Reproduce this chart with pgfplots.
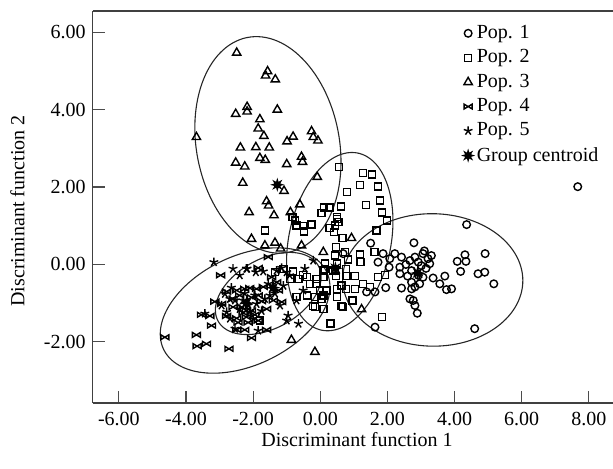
\documentclass[border=0pt]{standalone}
\usepackage{fontspec}
\setmainfont{Liberation Serif}
\usepackage{pgfplots}
\pgfplotsset{compat=1.18}

\pgfdeclareplotmark{bowtie}{%
  \pgfpathmoveto{\pgfqpoint{-\pgfplotmarksize}{0.6\pgfplotmarksize}}%
  \pgfpathlineto{\pgfqpoint{\pgfplotmarksize}{-0.6\pgfplotmarksize}}%
  \pgfpathlineto{\pgfqpoint{\pgfplotmarksize}{0.6\pgfplotmarksize}}%
  \pgfpathlineto{\pgfqpoint{-\pgfplotmarksize}{-0.6\pgfplotmarksize}}%
  \pgfpathclose\pgfusepathqstroke}
\pgfdeclareplotmark{centroid}{%
  \pgfpathmoveto{\pgfpointpolar{90}{\pgfplotmarksize}}%
  \pgfpathlineto{\pgfpointpolar{112.5}{0.45\pgfplotmarksize}}%
  \pgfpathlineto{\pgfpointpolar{135}{\pgfplotmarksize}}%
  \pgfpathlineto{\pgfpointpolar{157.5}{0.45\pgfplotmarksize}}%
  \pgfpathlineto{\pgfpointpolar{180}{\pgfplotmarksize}}%
  \pgfpathlineto{\pgfpointpolar{202.5}{0.45\pgfplotmarksize}}%
  \pgfpathlineto{\pgfpointpolar{225}{\pgfplotmarksize}}%
  \pgfpathlineto{\pgfpointpolar{247.5}{0.45\pgfplotmarksize}}%
  \pgfpathlineto{\pgfpointpolar{270}{\pgfplotmarksize}}%
  \pgfpathlineto{\pgfpointpolar{292.5}{0.45\pgfplotmarksize}}%
  \pgfpathlineto{\pgfpointpolar{315}{\pgfplotmarksize}}%
  \pgfpathlineto{\pgfpointpolar{337.5}{0.45\pgfplotmarksize}}%
  \pgfpathlineto{\pgfpointpolar{0}{\pgfplotmarksize}}%
  \pgfpathlineto{\pgfpointpolar{22.5}{0.45\pgfplotmarksize}}%
  \pgfpathlineto{\pgfpointpolar{45}{\pgfplotmarksize}}%
  \pgfpathlineto{\pgfpointpolar{67.5}{0.45\pgfplotmarksize}}%
  \pgfpathclose\pgfusepathqfillstroke}

\begin{document}
\begin{tikzpicture}
\path[use as bounding box] (-46.35pt,-33pt) rectangle (260.15pt,201.5pt);
\begin{axis}[
  at={(0,0)}, anchor=south west,
  scale only axis, width=260.15pt, height=196pt,
  xmin=-6.78, xmax=8.72, ymin=-3.58, ymax=6.55,
  axis x line*=box, axis y line*=left,
  axis line style={black!75, line width=0.6pt},
  xtick={-6,-4,...,8}, ytick={-2,0,...,6},
  xtick pos=bottom, ytick pos=left,
  tick align=inside, major tick length=6pt,
  tick style={black!70, line width=0.6pt},
  font=\fontsize{10}{12}\selectfont,
  /pgf/number format/assume math mode=true,
  xticklabel style={yshift=-1pt, /pgf/number format/.cd, fixed, fixed zerofill, precision=2},
  yticklabel style={/pgf/number format/.cd, fixed, fixed zerofill, precision=2},
  xlabel={Discriminant function 1},
  ylabel={Discriminant function 2},
  xlabel style={at={(axis description cs:0.508,-0.0944)}, anchor=center},
  ylabel style={at={(axis description cs:-0.1445,0.49)}, anchor=center},
  legend style={at={(rel axis cs:0.712,0.975)}, anchor=north west, draw=none, fill=none,
    font=\fontsize{10}{12}\selectfont, row sep=0.1pt, inner sep=0pt},
  legend cell align=left,
  every axis plot/.append style={line width=0.7pt},
]
% Pop. 1
\addplot[only marks, mark=o, mark size=1.9pt, black] table {
4.36 1.03
1.50 0.55
2.79 0.56
1.87 0.28
2.07 0.15
2.22 0.28
2.42 0.19
1.72 0.06
2.05 -0.07
2.37 -0.07
2.67 0.10
2.82 0.19
2.92 0.06
3.06 0.28
3.21 0.15
3.31 0.23
3.26 0.02
3.01 -0.03
2.72 -0.16
2.92 -0.28
3.06 -0.33
3.36 -0.35
3.71 -0.30
3.56 -0.50
2.96 -0.50
2.72 -0.46
2.42 -0.61
2.72 -0.63
2.82 -0.58
3.76 -0.65
3.91 -0.63
2.67 -0.89
2.77 -0.93
2.82 -1.06
2.89 -1.26
1.63 -1.62
4.60 -1.66
4.08 0.08
4.31 0.25
4.34 0.08
4.91 0.28
4.18 -0.18
4.70 -0.24
4.90 -0.20
5.17 -0.50
1.38 -0.71
1.63 -0.71
0.68 0.28
2.37 -0.24
2.55 0.00
3.15 -0.10
2.60 -0.30
3.10 0.35
1.95 -0.60
7.67 2.01
};
% Pop. 2
\addplot[only marks, mark=square, mark size=1.75pt, black] table {
0.56 2.52
0.79 1.87
0.11 1.47
0.27 1.47
0.61 1.50
0.04 1.33
0.49 1.18
0.54 1.10
-0.83 1.22
-0.76 1.14
-0.71 1.01
-0.26 1.03
0.43 1.01
-0.51 0.99
1.36 1.54
1.78 1.65
1.83 1.34
1.98 1.14
1.68 0.88
0.50 1.22
0.40 0.84
0.66 0.68
0.46 0.45
0.73 0.32
1.18 0.26
1.62 0.32
0.49 0.02
0.83 0.13
1.20 0.06
0.38 -0.16
0.76 -0.11
0.46 -0.30
0.78 -0.30
1.03 -0.30
1.72 -0.33
1.92 -0.28
0.49 -0.63
0.76 -0.63
1.03 -0.63
1.28 -0.50
1.48 -0.58
0.49 -0.84
0.96 -0.93
0.63 -1.08
1.83 -1.36
0.31 -1.53
-1.65 0.88
-0.49 0.85
0.28 0.94
0.43 0.23
0.14 -0.11
0.43 -0.16
0.09 -0.33
-0.11 -0.50
-0.01 -0.67
0.18 -0.67
-0.16 -0.84
0.04 -0.89
-0.21 -1.08
0.68 -1.10
-1.35 -0.20
-1.10 -0.11
-0.65 -0.37
-0.40 -0.33
-0.30 -0.50
-0.40 -0.80
-0.71 -0.84
-1.80 -1.45
0.63 -0.54
-0.91 -0.37
-0.81 -0.18
-0.51 -0.28
-0.11 -0.37
0.09 -0.16
0.14 0.02
0.09 -0.80
-0.16 -1.10
0.09 -1.15
1.27 2.37
1.54 2.32
1.72 2.01
1.18 2.06
};
% Pop. 3
\addplot[only marks, mark=triangle, mark size=2.4pt, black] table {
-2.49 5.47
-1.57 4.99
-1.63 4.88
-1.34 4.78
-2.18 4.07
-2.52 3.89
-2.18 3.95
-1.28 4.00
-1.80 3.75
-1.85 3.51
-1.68 3.32
-3.69 3.29
-0.81 3.30
-0.99 3.18
-0.26 3.44
-0.21 3.29
-0.07 3.20
-2.38 3.02
-1.92 3.03
-1.52 3.02
-2.52 2.63
-2.25 2.53
-1.80 2.75
-1.64 2.70
-1.00 2.59
-0.56 2.78
-0.53 2.65
-2.31 2.11
-1.08 1.90
-1.60 1.63
-1.54 1.52
-2.12 1.35
-1.38 1.27
-0.61 1.55
-0.89 1.35
-0.09 2.26
-2.05 0.66
-1.65 0.49
-1.35 0.56
-1.18 0.41
-0.56 0.49
0.09 0.32
-0.86 -1.95
-0.16 -2.26
1.23 -1.16
0.93 0.68
};
% Pop. 4
\addplot[only marks, mark=bowtie, mark size=2.0pt, black] table {
-1.55 0.19
-2.97 -0.28
-1.85 -0.09
-2.79 -0.70
-2.49 -0.67
-2.25 -0.63
-2.10 -0.61
-1.90 -0.63
-3.14 -0.96
-2.94 -1.02
-2.60 -0.89
-3.54 -1.30
-3.29 -1.33
-3.24 -1.58
-2.79 -1.33
-2.49 -1.39
-2.20 -1.36
-2.05 -1.19
-2.49 -1.69
-2.25 -1.69
-1.60 -1.69
-2.05 -1.90
-4.63 -1.88
-3.69 -1.82
-3.39 -2.05
-3.67 -2.11
-2.72 -2.18
-1.15 -0.97
-1.85 -0.80
-2.34 -1.10
-2.20 -1.19
-1.40 -0.93
-1.70 -0.58
-1.25 -0.67
-1.30 -0.46
-1.45 -0.33
-2.40 -0.80
-2.05 -0.85
-1.75 -0.95
-2.30 -1.25
-1.95 -1.30
-2.60 -1.10
-1.60 -1.15
-2.15 -1.50
-1.85 -1.45
-2.45 -1.50
};
% Pop. 5
\addplot[only marks, mark=star, mark size=2.3pt, black] table {
-3.17 0.06
-2.60 -0.11
-2.40 -0.28
-2.18 -0.11
-1.92 -0.20
-1.70 -0.18
-1.15 -0.09
-1.00 -0.20
-0.46 -0.11
-0.21 0.10
-0.51 -0.67
-2.84 -0.76
-2.69 -0.89
-2.54 -0.93
-2.94 -1.06
-2.79 -1.23
-2.69 -1.40
-2.30 -0.93
-2.15 -1.06
-2.10 -1.23
-1.90 -1.02
-1.65 -0.89
-1.50 -0.80
-1.20 -1.06
-0.96 -1.32
-0.71 -0.93
-0.65 -1.53
-3.44 -1.27
-2.54 -1.66
-1.85 -1.71
-1.00 -1.45
-1.55 -0.50
-1.30 -0.16
-0.91 -0.28
-2.20 -0.11
-2.25 -0.75
-1.95 -0.80
-2.40 -1.15
-2.00 -1.40
-1.75 -1.20
-1.35 -0.75
-2.65 -0.60
-1.10 -0.55
};
% Group centroids
\addplot[only marks, mark=centroid, mark size=2.3pt, black, fill=black] table {
2.90 -0.22
0.45 -0.10
-1.28 2.06
-2.20 -1.00
-1.40 -0.60
};
\legend{Pop. 1, Pop. 2, Pop. 3, Pop. 4, Pop. 5, Group centroid}
% ellipses
\addplot[black!85, line width=0.55pt, domain=0:360, samples=121, variable=\t, forget plot]
  ({3.35 + 2.68*cos(t) - 0.15*sin(t)}, {-0.40 + 0.08*cos(t) + 1.71*sin(t)});
\addplot[black!85, line width=0.55pt, domain=0:360, samples=121, variable=\t, forget plot]
  ({0.58 + 1.52*cos(t) + 0.45*sin(t)}, {0.59 - 0.13*cos(t) + 2.30*sin(t)});
\addplot[black!85, line width=0.55pt, domain=0:360, samples=121, variable=\t, forget plot]
  ({-1.56 + 2.17*cos(t) - 0.18*sin(t)}, {3.09 - 0.21*cos(t) + 2.79*sin(t)});
\addplot[black!85, line width=0.55pt, domain=0:360, samples=121, variable=\t, forget plot]
  ({-2.24 + 2.44*cos(t) + 0.66*sin(t)}, {-1.19 + 0.98*cos(t) - 1.29*sin(t)});
\addplot[black!85, line width=0.55pt, domain=0:360, samples=121, variable=\t, forget plot]
  ({-1.55 + 1.49*cos(t) + 0.51*sin(t)}, {-0.75 + 0.72*cos(t) - 0.78*sin(t)});
\end{axis}
\end{tikzpicture}
\end{document}
